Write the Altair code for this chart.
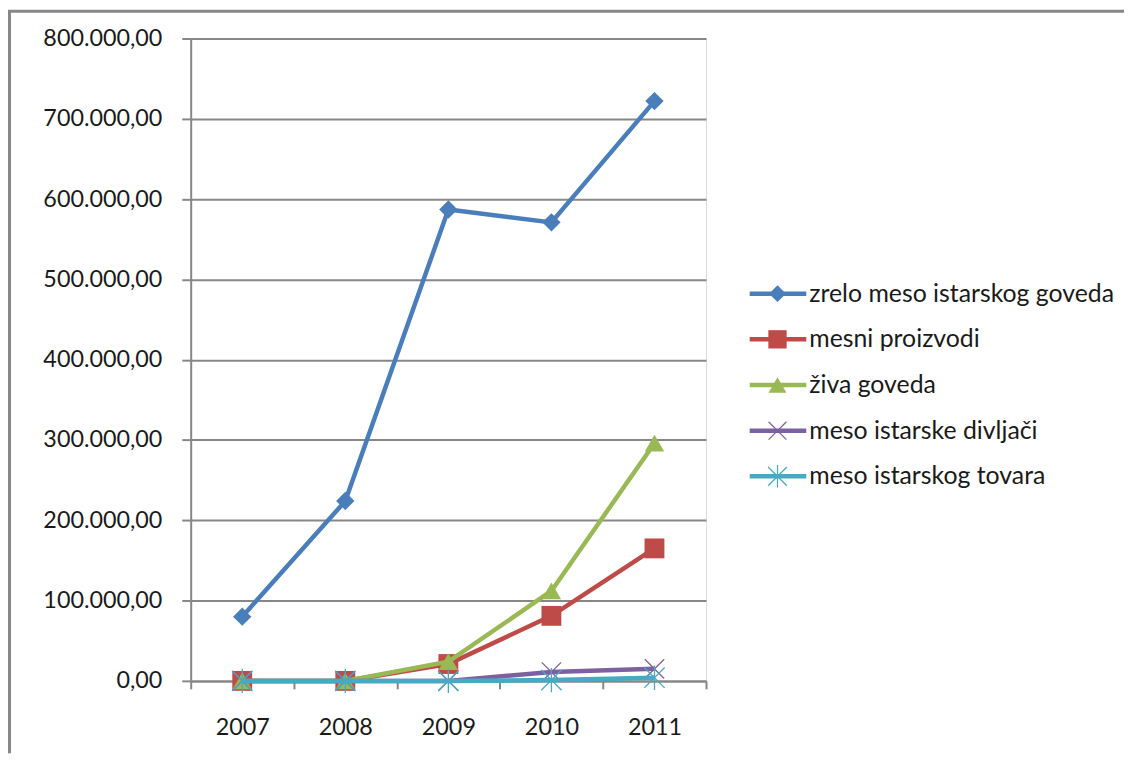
import altair as alt
import pandas as pd

years = ["2007", "2008", "2009", "2010", "2011"]
series_names = [
    "zrelo meso istarskog goveda",
    "mesni proizvodi",
    "živa goveda",
    "meso istarske divljači",
    "meso istarskog tovara",
]
zrelo_meso = [80000, 224000, 587000, 571000, 722000]
mesni_proizvodi = [0, 0, 21000, 81000, 165000]
ziva_goveda = [0, 0, 24000, 112000, 296000]
meso_divljaci = [0, 0, 0, 11000, 15000]
meso_tovara = [0, 0, 0, 1000, 4000]
y_ticks = [0, 100000, 200000, 300000, 400000, 500000, 600000, 700000, 800000]

colors = ["#4A7EBB", "#BE4B48", "#98B954", "#7D60A0", "#46AAC5"]
shapes = [
    "diamond",
    "square",
    "triangle-up",
    "M-1,-1L1,1M-1,1L1,-1",
    "M-1,-1L1,1M-1,1L1,-1M0,-1.2L0,1.2",
]
filled = [True, True, True, False, False]
sizes = [340, 400, 380, 380, 420]

all_values = [zrelo_meso, mesni_proizvodi, ziva_goveda, meso_divljaci, meso_tovara]
rows = []
for name, vals in zip(series_names, all_values):
    for yr, v in zip(years, vals):
        rows.append({"godina": yr, "serija": name, "vrijednost": v})
df = pd.DataFrame(rows)
legend_df = pd.DataFrame({"serija": series_names})

GRID = "#878787"
FONT = "Lato"

x_enc = alt.X(
    "godina:N",
    bandPosition=0.5,
    scale=alt.Scale(type="band", domain=years, paddingInner=0, paddingOuter=0),
    axis=alt.Axis(
        title=None, labelAngle=0, tickBand="extent", tickSize=8, tickWidth=2,
        tickColor=GRID, domainColor=GRID, domainWidth=2, labelFontSize=23.5,
        labelPadding=27, labelColor="#1a1a1a", labelFont=FONT, grid=False,
    ),
)
y_enc = alt.Y(
    "vrijednost:Q",
    scale=alt.Scale(domain=[0, 800000], nice=False, zero=True),
    axis=alt.Axis(
        title=None, values=y_ticks, format=",.2f", grid=True, gridColor=GRID,
        gridWidth=2, tickSize=9, tickWidth=2, tickColor=GRID, domainColor=GRID,
        domainWidth=2, labelFontSize=23.5, labelPadding=20, labelColor="#1a1a1a",
        labelFont=FONT,
    ),
)

base = alt.Chart(df)
main_layers = []
for i, name in enumerate(series_names):
    sub = base.transform_filter(alt.datum.serija == name)
    main_layers.append(
        sub.mark_line(color=colors[i], strokeWidth=4.5).encode(x=x_enc, y=y_enc)
    )
    if filled[i]:
        pt = sub.mark_point(shape=shapes[i], filled=True, size=sizes[i],
                            color=colors[i], opacity=1)
    else:
        pt = sub.mark_point(shape=shapes[i], filled=False, size=sizes[i],
                            color=colors[i], strokeWidth=1.3, opacity=1)
    main_layers.append(pt.encode(x=x_enc, y=y_enc))
main = alt.layer(*main_layers)

ly = alt.Y("serija:N",
           scale=alt.Scale(type="point", domain=series_names, range=[257, 441], padding=0),
           axis=None)
lbase = alt.Chart(legend_df)
legend_layers = []
for i, name in enumerate(series_names):
    sub = lbase.transform_filter(alt.datum.serija == name)
    legend_layers.append(
        sub.mark_rule(color=colors[i], strokeWidth=4.5).encode(
            x=alt.value(563), x2=alt.value(620), y=ly)
    )
    if filled[i]:
        pt = sub.mark_point(shape=shapes[i], filled=True, size=sizes[i] * 0.85,
                            color=colors[i], opacity=1)
    else:
        pt = sub.mark_point(shape=shapes[i], filled=False, size=sizes[i] * 0.85,
                            color=colors[i], strokeWidth=1.2, opacity=1)
    legend_layers.append(pt.encode(x=alt.value(591), y=ly))
legend_layers.append(
    lbase.mark_text(align="left", baseline="middle", fontSize=25, font=FONT,
                    color="#1a1a1a").encode(x=alt.value(623), y=ly, text="serija:N")
)
legend = alt.layer(*legend_layers)

frame_df = pd.DataFrame({"k": [0]})
frame_left = alt.Chart(frame_df).mark_rule(color=GRID, strokeWidth=3).encode(
    x=alt.value(-182.5), y=alt.value(-27.5), y2=alt.value(720))
frame_top = alt.Chart(frame_df).mark_rule(color=GRID, strokeWidth=3).encode(
    x=alt.value(-184), x2=alt.value(940), y=alt.value(-27.5))

chart = (
    alt.layer(main, legend, frame_left, frame_top)
    .resolve_scale(y="independent")
    .properties(
        width=519, height=647,
        autosize=alt.AutoSizeParams(type="none"),
        padding={"left": 184, "top": 28, "right": 424, "bottom": 81},
    )
    .configure_view(stroke=None)
    .configure(font=FONT)
)

chart.save(
    "out.html",
    embed_options={
        "renderer": "svg",
        "actions": False,
        "formatLocale": {
            "decimal": ",",
            "thousands": ".",
            "grouping": [3],
            "currency": ["", " kn"],
        },
    },
)
